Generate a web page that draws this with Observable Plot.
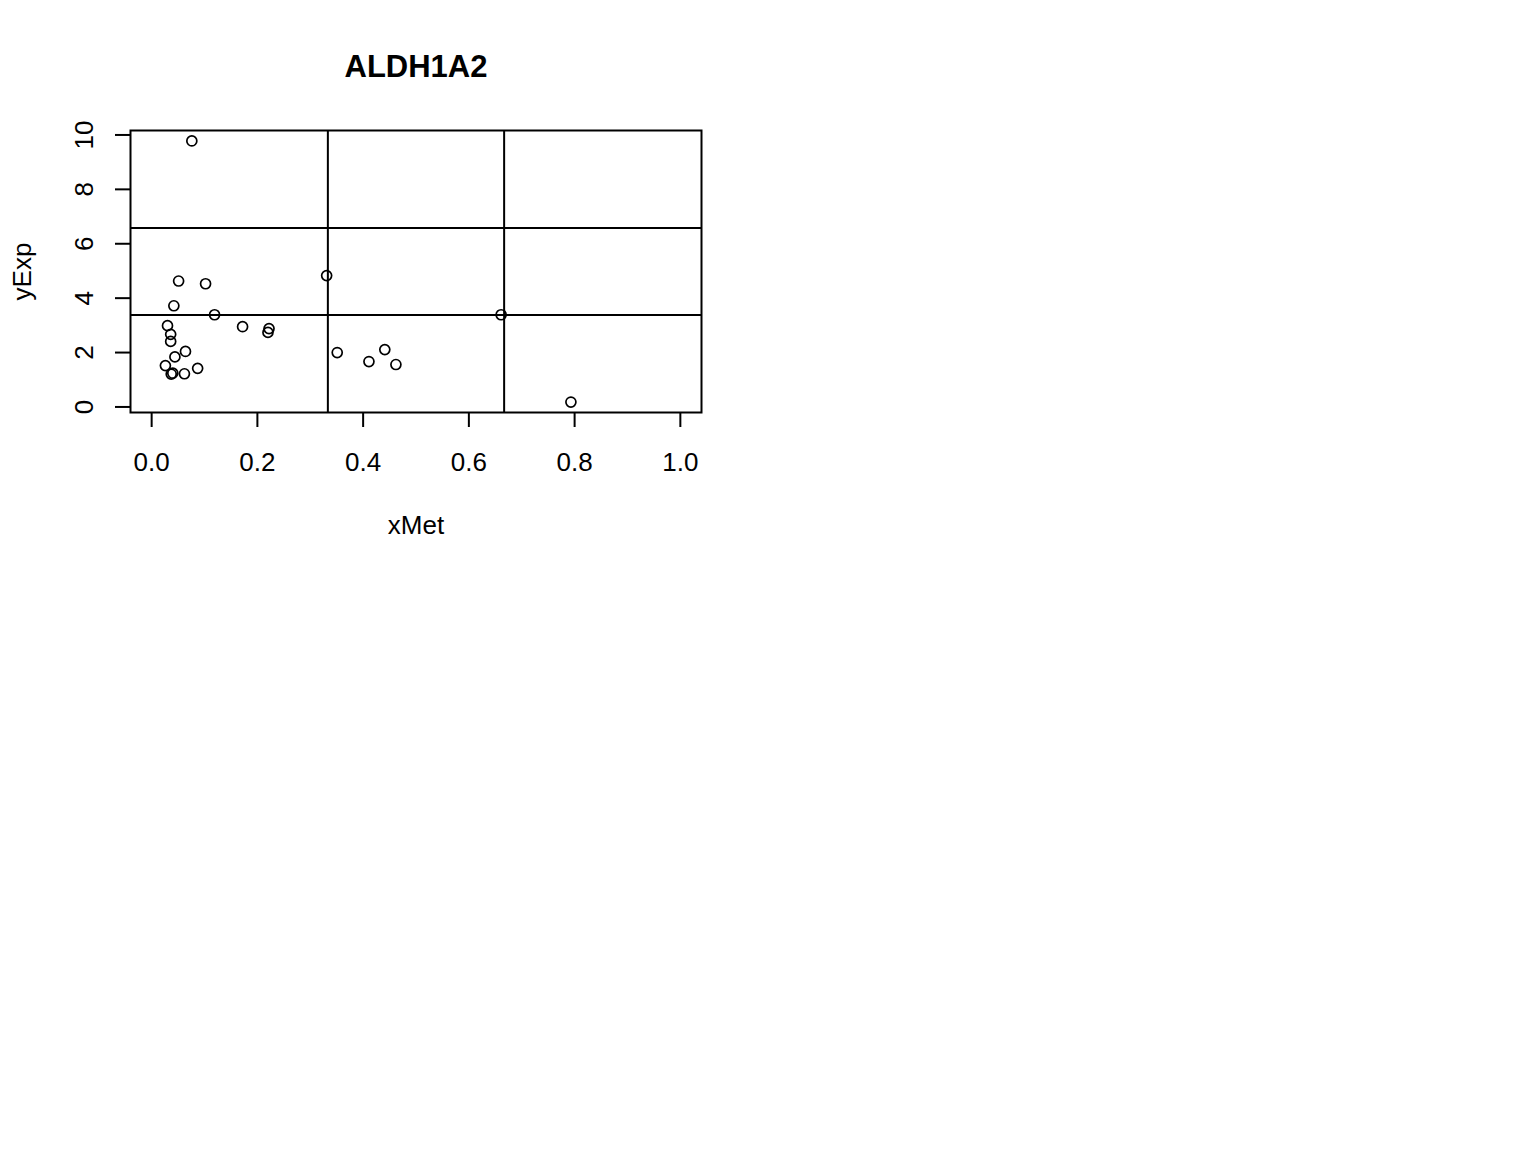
<!DOCTYPE html>
<html>
<head>
<meta charset="utf-8">
<script src="https://cdn.jsdelivr.net/npm/d3@7"></script>
<script src="https://cdn.jsdelivr.net/npm/@observablehq/plot@0.6"></script>
<style>
  html, body { margin: 0; padding: 0; background: #fff; }
  #chart { position: absolute; left: 0; top: 0; }
</style>
</head>
<body>
<div id="chart"></div>
<script>
const title = "ALDH1A2";
const xLabel = "xMet";
const yLabel = "yExp";

const xMet = [0.076, 0.051, 0.102, 0.331, 0.042, 0.119, 0.661, 0.030, 0.172, 0.222, 0.220, 0.036, 0.036, 0.064, 0.044, 0.351, 0.441, 0.411, 0.462, 0.026, 0.087, 0.037, 0.040, 0.062, 0.793];
const yExp = [9.78, 4.63, 4.53, 4.83, 3.72, 3.39, 3.39, 2.99, 2.95, 2.88, 2.74, 2.67, 2.41, 2.04, 1.84, 2.00, 2.11, 1.67, 1.56, 1.52, 1.42, 1.21, 1.24, 1.22, 0.18];

const xTicks = [0, 0.2, 0.4, 0.6, 0.8, 1.0];
const yTicks = [0, 2, 4, 6, 8, 10];
const xCuts = [0.3333, 0.6667];
const yCuts = [3.38, 6.58];

const points = xMet.map((x, i) => ({x, y: yExp[i]}));

const yMin = d3.min(yExp), yMax = d3.max(yExp), yR = yMax - yMin;
const yDomain = [yMin - 0.04 * yR, yMax + 0.04 * yR];

const font = "'Liberation Sans', Arial, sans-serif";

const chart = Plot.plot({
  width: 768,
  height: 576,
  marginLeft: 130,
  marginRight: 67,
  marginTop: 130,
  marginBottom: 164,
  style: {fontFamily: font, fontSize: "26px", background: "white", color: "black"},
  x: {domain: [-0.04, 1.04]},
  y: {domain: yDomain},
  marks: [
    Plot.ruleX(xCuts, {stroke: "black", strokeWidth: 2}),
    Plot.ruleY(yCuts, {stroke: "black", strokeWidth: 2}),
    Plot.frame({stroke: "black", strokeWidth: 2}),
    Plot.axisX({ticks: xTicks, tickSize: 15, tickPadding: 25, strokeWidth: 2, tickFormat: d => d.toFixed(1), fontSize: 26, label: null}),
    Plot.axisY({ticks: yTicks, tickSize: 15, strokeWidth: 2, text: null, label: null}),
    Plot.text(yTicks, {y: d => d, text: d => String(d), frameAnchor: "left", rotate: -90, dx: -46, textAnchor: "middle", lineAnchor: "middle", fontSize: 26, fill: "black"}),
    Plot.dot(points, {x: "x", y: "y", r: 5, stroke: "black", strokeWidth: 1.7, fill: "none"}),
    Plot.text([title], {frameAnchor: "top", dy: -63, lineAnchor: "middle", fontSize: 31, fontWeight: "bold", fill: "black"}),
    Plot.text([xLabel], {frameAnchor: "bottom", dy: 113, lineAnchor: "middle", fontSize: 26, fill: "black"}),
    Plot.text([yLabel], {frameAnchor: "left", dx: -108, rotate: -90, textAnchor: "middle", lineAnchor: "middle", fontSize: 26, fill: "black"})
  ]
});
document.getElementById("chart").appendChild(chart);
</script>
</body>
</html>
